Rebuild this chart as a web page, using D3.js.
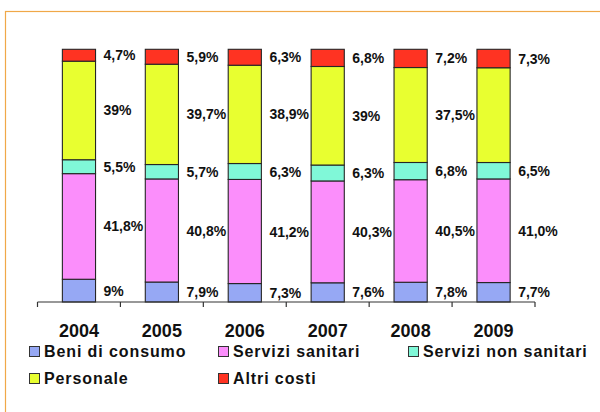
<!DOCTYPE html>
<html>
<head>
<meta charset="utf-8">
<script src="https://cdn.jsdelivr.net/npm/d3@7"></script>
<style>
  html, body { margin: 0; padding: 0; background: #fff; }
  svg { display: block; font-family: "Liberation Sans", Arial, sans-serif; }
</style>
</head>
<body>
<svg id="chart" width="600" height="412"></svg>
<script>
// Years on the x axis
const years = ["2004", "2005", "2006", "2007", "2008", "2009"];

// Cost shares per year (%), bottom to top of each bar
const beniDiConsumo     = [9, 7.9, 7.3, 7.6, 7.8, 7.7];
const serviziSanitari   = [41.8, 40.8, 41.2, 40.3, 40.5, 41.0];
const serviziNonSanitari = [5.5, 5.7, 6.3, 6.3, 6.8, 6.5];
const personale         = [39, 39.7, 38.9, 39, 37.5, 37.5];
const altriCosti        = [4.7, 5.9, 6.3, 6.8, 7.2, 7.3];

// Printed labels (null = no label shown)
const beniLabels      = ["9%", "7,9%", "7,3%", "7,6%", "7,8%", "7,7%"];
const sanitariLabels  = ["41,8%", "40,8%", "41,2%", "40,3%", "40,5%", "41,0%"];
const nonSanitLabels  = ["5,5%", "5,7%", "6,3%", "6,3%", "6,8%", "6,5%"];
const personaleLabels = ["39%", "39,7%", "38,9%", "39%", "37,5%", null];
const altriLabels     = ["4,7%", "5,9%", "6,3%", "6,8%", "7,2%", "7,3%"];

const seriesNames = ["Beni di consumo", "Servizi sanitari", "Servizi non sanitari", "Personale", "Altri costi"];
const seriesValues = [beniDiConsumo, serviziSanitari, serviziNonSanitari, personale, altriCosti];
const seriesLabels = [beniLabels, sanitariLabels, nonSanitLabels, personaleLabels, altriLabels];
const seriesColors = ["#96a8f4", "#fb8efb", "#80f8d8", "#e8ff30", "#ff3322"];

const rows = years.map((y, i) => {
  const r = { year: y };
  seriesNames.forEach((n, k) => { r[n] = seriesValues[k][i]; });
  return r;
});

const svg = d3.select("#chart");

// Frame: only the top and left edges fall inside the view
svg.append("rect")
  .attr("x", 5.5).attr("y", 11.5)
  .attr("width", 700).attr("height", 500)
  .attr("fill", "none")
  .attr("stroke", "#f0a848")
  .attr("stroke-width", 1.2);

const x = d3.scaleBand()
  .domain(years)
  .range([37.5, 535])
  .paddingInner(0.6)
  .paddingOuter(0.3);

const xTicks = d3.scaleBand().domain(years).range([37.5, 535]).padding(0);

const y = d3.scaleLinear().domain([0, 1]).range([302, 49.3]);

const stack = d3.stack().keys(seriesNames).offset(d3.stackOffsetExpand);
const stacked = stack(rows);

const layers = svg.append("g").selectAll("g")
  .data(stacked)
  .join("g")
  .attr("fill", (d, i) => seriesColors[i]);

layers.selectAll("rect")
  .data(d => d)
  .join("rect")
  .attr("x", d => x(d.data.year))
  .attr("y", d => y(d[1]))
  .attr("width", x.bandwidth())
  .attr("height", d => y(d[0]) - y(d[1]))
  .attr("stroke", "#262626")
  .attr("stroke-width", 1.1);

// Value labels to the right of each segment
stacked.forEach((layer, k) => {
  svg.append("g").selectAll("text")
    .data(layer.filter((d, i) => seriesLabels[k][i] !== null)
               .map(d => ({ d, label: seriesLabels[k][years.indexOf(d.data.year)] })))
    .join("text")
    .attr("x", o => x(o.d.data.year) + x.bandwidth() + 8)
    .attr("y", o => (y(o.d[0]) + y(o.d[1])) / 2)
    .attr("dy", "0.36em")
    .attr("font-size", 14)
    .attr("font-weight", "bold")
    .attr("fill", "#111")
    .text(o => o.label);
});

// X axis with boundary ticks
const axisG = svg.append("g").attr("transform", "translate(0,302)");
axisG.append("line")
  .attr("x1", 37.5).attr("x2", 535)
  .attr("stroke", "#333").attr("stroke-width", 1.2);
const bounds = years.map(yr => xTicks(yr)).concat([535]);
axisG.selectAll("line.tick")
  .data(bounds)
  .join("line")
  .attr("class", "tick")
  .attr("x1", d => d).attr("x2", d => d)
  .attr("y1", 0).attr("y2", 5)
  .attr("stroke", "#333").attr("stroke-width", 1.2);

axisG.selectAll("text")
  .data(years)
  .join("text")
  .attr("x", d => x(d) + x.bandwidth() / 2)
  .attr("y", 35)
  .attr("text-anchor", "middle")
  .attr("font-size", 18)
  .attr("font-weight", "bold")
  .attr("fill", "#111")
  .text(d => d);

// Legend
const legendPos = [[29, 346], [218, 346], [408, 346], [29, 373], [218, 373]];
const legend = svg.append("g").selectAll("g")
  .data(seriesNames)
  .join("g")
  .attr("transform", (d, i) => `translate(${legendPos[i][0]},${legendPos[i][1]})`);
legend.append("rect")
  .attr("x", 0.5).attr("y", 0.5)
  .attr("width", 10).attr("height", 10)
  .attr("fill", (d, i) => seriesColors[i])
  .attr("stroke", "#333").attr("stroke-width", 1);
legend.append("text")
  .attr("x", 15)
  .attr("y", 10.5)
  .attr("font-size", 16)
  .attr("font-weight", "bold")
  .attr("letter-spacing", 0.9)
  .attr("fill", "#111")
  .text(d => d);
</script>
</body>
</html>
